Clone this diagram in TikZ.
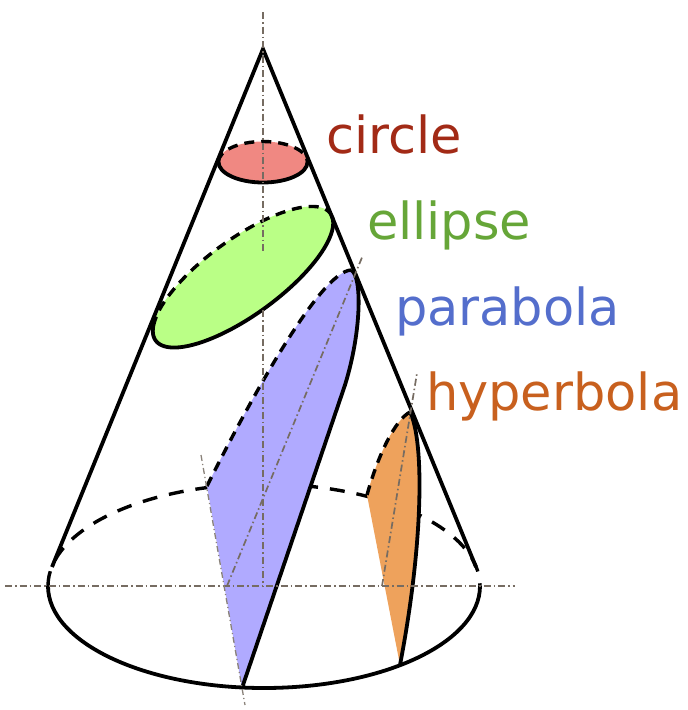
\documentclass[tikz,border=0pt]{standalone}
\usepackage{fontspec}
\setmainfont{DejaVu Sans}
\definecolor{redfill}{RGB}{240,136,130}
\definecolor{greenfill}{RGB}{186,255,134}
\definecolor{bluefill}{RGB}{176,170,255}
\definecolor{orangefill}{RGB}{238,162,92}
\definecolor{redtext}{RGB}{162,42,22}
\definecolor{greentext}{RGB}{102,166,56}
\definecolor{bluetext}{RGB}{84,110,204}
\definecolor{orangetext}{RGB}{200,96,30}
\definecolor{axisgray}{RGB}{118,108,98}
\tikzset{
  solidedge/.style={line width=3.8pt, black},
  hiddenedge/.style={line width=3.4pt, black, dash pattern=on 10pt off 7pt},
  hiddenbase/.style={line width=3.4pt, black, dash pattern=on 15pt off 12pt},
  axisline/.style={line width=1.7pt, axisgray, dash pattern=on 7pt off 3pt on 1.5pt off 3pt},
  thinaxis/.style={line width=1.3pt, axisgray!85, dash pattern=on 6pt off 3pt on 1.2pt off 3pt},
  conictext/.style={inner sep=0pt, outer sep=0pt, anchor=base west, font=\fontsize{51}{61}\selectfont}
}
\begin{document}
\begin{tikzpicture}[x=1pt,y=-1pt]
\useasboundingbox (0,0) rectangle (688,710);
% key points
\coordinate (apex) at (263,49);
\coordinate (tl) at (52,567);
\coordinate (tr) at (476,567);
% back of base
\draw[hiddenbase] (48,586) arc[start angle=180, end angle=360, x radius=216, y radius=102];
% fills
\fill[redfill] (263,162) ellipse [x radius=44.5, y radius=20.5];
\fill[greenfill] plot[domain=0:360, samples=120, variable=\t]
  ({243 + 108*cos(\t)*0.809 - 38*sin(\t)*0.588}, {277 - (108*cos(\t)*0.588 + 38*sin(\t)*0.809)}) -- cycle;
\fill[bluefill] (207,486) .. controls (250,400) and (320,272) .. (351,270)
  .. controls (362,275) and (362,330) .. (345,385) -- (242,688) -- cycle;
\fill[orangefill] (367,495) .. controls (378,455) and (395,420) .. (410,412)
  .. controls (424,440) and (424,540) .. (400,665) -- cycle;
% hidden edges
\draw[hiddenedge] (218.5,162) arc[start angle=180, end angle=360, x radius=44.5, y radius=20.5];
\draw[hiddenedge] plot[domain=-4.9:150.3, samples=60, variable=\t]
  ({243 + 108*cos(\t)*0.809 - 38*sin(\t)*0.588}, {277 - (108*cos(\t)*0.588 + 38*sin(\t)*0.809)});
\draw[hiddenedge] (207,486) .. controls (250,400) and (320,272) .. (351,270);
\draw[hiddenedge] (367,495) .. controls (378,455) and (395,420) .. (410,412);
% visible edges
\draw[solidedge] (307.5,162) arc[start angle=0, end angle=180, x radius=44.5, y radius=20.5];
\draw[solidedge] plot[domain=150.3:355.1, samples=80, variable=\t]
  ({243 + 108*cos(\t)*0.809 - 38*sin(\t)*0.588}, {277 - (108*cos(\t)*0.588 + 38*sin(\t)*0.809)});
\draw[solidedge] (351,270) .. controls (362,275) and (362,330) .. (345,385) -- (242,688);
\draw[solidedge] (410,412) .. controls (424,440) and (424,540) .. (400,665);
\draw[solidedge] (480,586) arc[start angle=0, end angle=180, x radius=216, y radius=102];
\draw[solidedge] (tl) -- (apex) -- (tr);
% axes
\draw[axisline] (263,12) -- (263,252);
\draw[axisline] (263,310) -- (263,586);
\draw[axisline] (5,586) -- (515,586);
\draw[axisline] (227,586) -- (363,255);
\draw[axisline] (382,586) -- (417,373);
\draw[thinaxis] (201,455) -- (245,705);
% labels
\node[conictext, text=redtext] (lcircle) at (326,153) {circle};
\node[conictext, text=greentext] (lellipse) at (367,239) {ellipse};
\node[conictext, text=bluetext] (lparabola) at (395,325) {parabola};
\node[conictext, text=orangetext] (lhyperbola) at (426,410) {hyperbola};
\end{tikzpicture}
\end{document}
